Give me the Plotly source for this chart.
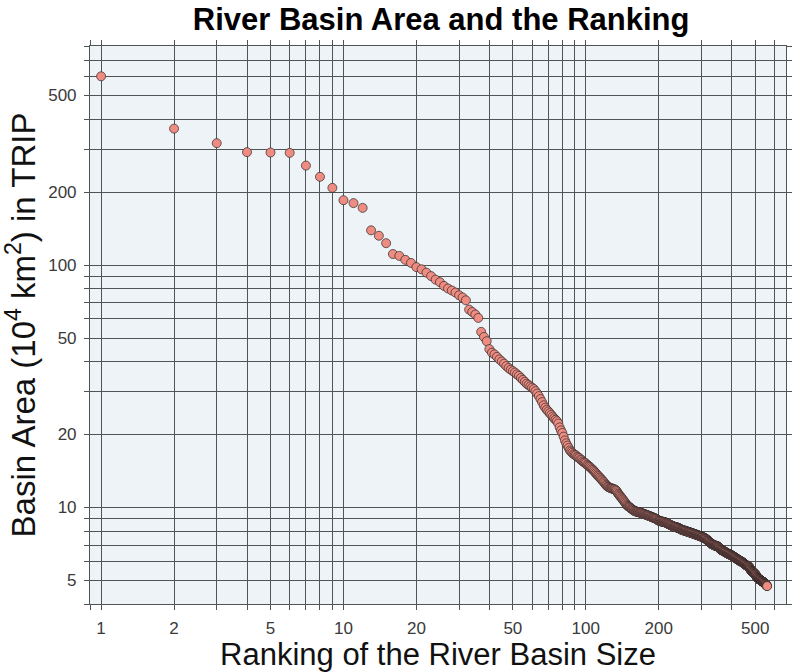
import plotly.graph_objects as go

# Basin area (10^4 km^2) of each TRIP river basin, listed by size rank
area_top = [600, 365, 318, 292, 291, 290, 257, 231, 208, 185,
            180, 172, 139, 132, 123, 111, 109, 105, 102, 98,
            96, 93, 90, 87, 85, 82, 80, 78.5, 77, 75,
            73.5, 71.5, 65.5, 64, 62.5, 60.5, 53, 50.5, 48.5, 45,
            43.5, 42.8, 41.8, 40.8, 40.0, 39.2, 38.3, 37.6, 37.0, 36.5]
area_mid = [36.0, 35.4, 34.9, 34.2, 33.6, 33.0, 32.4, 32.0, 31.6, 31.2,
            30.8, 30.2, 29.5, 28.8, 28.0, 27.2, 26.4, 25.8, 25.3, 24.9,
            24.5, 24.1, 23.7, 23.3, 23.0, 22.7, 22.2, 21.4, 20.8, 20.3,
            19.6, 18.9, 18.4, 18.0, 17.6, 17.2, 17.0, 16.8, 16.6, 16.5,
            16.4, 16.2, 16.1, 16.0, 15.8, 15.7, 15.5, 15.4, 15.3, 15.2,
            15.0, 14.9, 14.8, 14.7, 14.55, 14.4, 14.3, 14.15, 14.0, 13.85,
            13.7, 13.55, 13.45, 13.3, 13.2, 13.05, 12.95, 12.8, 12.7, 12.55,
            12.4, 12.3, 12.2, 12.15, 12.1, 12.05, 12.0, 12.0, 11.95, 11.9,
            11.9, 11.85, 11.8, 11.7, 11.55, 11.4, 11.3, 11.2, 11.1, 11.0,
            10.9, 10.8, 10.7, 10.6, 10.5, 10.4, 10.3, 10.2, 10.15, 10.1,
            10.05, 10.0, 9.95, 9.9, 9.85, 9.8, 9.75, 9.7, 9.68, 9.65]
area_tail = [9.63, 9.61, 9.60, 9.58, 9.57, 9.55, 9.53, 9.51, 9.50, 9.48,
             9.46, 9.44, 9.42, 9.40, 9.38, 9.36, 9.34, 9.32, 9.30, 9.28,
             9.26, 9.24, 9.22, 9.20, 9.18, 9.16, 9.14, 9.12, 9.10, 9.08,
             9.06, 9.04, 9.02, 9.00, 8.98, 8.96, 8.92, 8.88, 8.85, 8.83,
             8.81, 8.79, 8.78, 8.77, 8.76, 8.75, 8.74, 8.73, 8.72, 8.71,
             8.70, 8.69, 8.68, 8.66, 8.64, 8.62, 8.60, 8.58, 8.56, 8.54,
             8.52, 8.50, 8.48, 8.46, 8.44, 8.42, 8.40, 8.38, 8.36, 8.35,
             8.34, 8.33, 8.32, 8.31, 8.30, 8.29, 8.28, 8.27, 8.26, 8.25,
             8.24, 8.22, 8.20, 8.18, 8.16, 8.14, 8.12, 8.10, 8.09, 8.08,
             8.07, 8.06, 8.05, 8.04, 8.03, 8.02, 8.01, 8.00, 7.99, 7.98,
             7.97, 7.96, 7.95, 7.94, 7.93, 7.92, 7.91, 7.90, 7.89, 7.88,
             7.87, 7.86, 7.85, 7.84, 7.83, 7.82, 7.81, 7.80, 7.79, 7.78,
             7.77, 7.76, 7.75, 7.74, 7.73, 7.72, 7.71, 7.70, 7.69, 7.68,
             7.67, 7.66, 7.65, 7.64, 7.63, 7.62, 7.61, 7.60, 7.59, 7.58,
             7.57, 7.56, 7.55, 7.54, 7.53, 7.52, 7.51, 7.50, 7.49, 7.48,
             7.46, 7.44, 7.42, 7.40, 7.38, 7.36, 7.34, 7.32, 7.30, 7.28,
             7.26, 7.24, 7.22, 7.20, 7.18, 7.16, 7.14, 7.12, 7.10, 7.08,
             7.07, 7.06, 7.05, 7.04, 7.03, 7.02, 7.01, 7.00, 6.99, 6.98,
             6.97, 6.96, 6.95, 6.94, 6.94, 6.93, 6.93, 6.92, 6.92, 6.91,
             6.90, 6.88, 6.86, 6.84, 6.82, 6.80, 6.78, 6.76, 6.74, 6.72,
             6.70, 6.69, 6.68, 6.67, 6.66, 6.65, 6.64, 6.63, 6.62, 6.61,
             6.60, 6.59, 6.58, 6.57, 6.56, 6.55, 6.54, 6.53, 6.52, 6.51,
             6.50, 6.49, 6.48, 6.47, 6.46, 6.45, 6.44, 6.43, 6.42, 6.42,
             6.41, 6.41, 6.40, 6.40, 6.39, 6.38, 6.37, 6.36, 6.35, 6.34,
             6.33, 6.32, 6.31, 6.30, 6.29, 6.28, 6.27, 6.26, 6.25, 6.24,
             6.23, 6.22, 6.21, 6.20, 6.19, 6.18, 6.17, 6.16, 6.15, 6.14,
             6.13, 6.12, 6.11, 6.10, 6.09, 6.08, 6.07, 6.06, 6.05, 6.04,
             6.03, 6.03, 6.02, 6.02, 6.01, 6.01, 6.00, 5.99, 5.98, 5.97,
             5.96, 5.95, 5.94, 5.93, 5.92, 5.91, 5.90, 5.89, 5.88, 5.87,
             5.86, 5.85, 5.84, 5.83, 5.82, 5.81, 5.80, 5.79, 5.78, 5.77,
             5.76, 5.76, 5.75, 5.75, 5.74, 5.74, 5.73, 5.73, 5.72, 5.71,
             5.70, 5.68, 5.66, 5.64, 5.62, 5.60, 5.58, 5.56, 5.54, 5.52,
             5.50, 5.49, 5.48, 5.47, 5.46, 5.45, 5.44, 5.43, 5.42, 5.41,
             5.40, 5.39, 5.38, 5.37, 5.36, 5.35, 5.34, 5.33, 5.32, 5.31,
             5.30, 5.29, 5.27, 5.25, 5.23, 5.21, 5.19, 5.17, 5.15, 5.13,
             5.12, 5.11, 5.10, 5.09, 5.08, 5.08, 5.07, 5.07, 5.06, 5.06,
             5.05, 5.05, 5.04, 5.04, 5.03, 5.02, 5.01, 5.00, 4.99, 4.98,
             4.97, 4.97, 4.96, 4.96, 4.95, 4.95, 4.94, 4.94, 4.93, 4.93,
             4.92, 4.92, 4.91, 4.90, 4.89, 4.88, 4.87, 4.86, 4.85, 4.84,
             4.83, 4.82, 4.81, 4.80, 4.79, 4.78, 4.77, 4.76, 4.75, 4.74]

area = area_top + area_mid + area_tail
rank = list(range(1, len(area) + 1))

# grid / tick positions (decade lines with every integer multiple in between)
x_grid = [0.9, 1, 2, 3, 4, 5, 6, 7, 8, 9, 10, 20, 30, 40, 50, 60, 70, 80, 90,
          100, 200, 300, 400, 500, 600]
x_labels = {1: "1", 2: "2", 5: "5", 10: "10", 20: "20", 50: "50",
            100: "100", 200: "200", 500: "500"}
y_grid = [4, 5, 6, 7, 8, 9, 10, 20, 30, 40, 50, 60, 70, 80, 90,
          100, 200, 300, 400, 500, 600, 700, 800]
y_labels = {5: "5", 10: "10", 20: "20", 50: "50", 100: "100",
            200: "200", 500: "500"}

GRID = "#4f5455"
FONT = "Liberation Sans, Arial, Helvetica, sans-serif"

fig = go.Figure()
fig.add_trace(go.Scatter(
    x=rank, y=area, mode="markers",
    marker=dict(size=9, color="#ee8c82",
                line=dict(color="#2e2626", width=0.7)),
    showlegend=False,
))

axis_common = dict(
    type="log",
    showgrid=True, gridcolor=GRID, gridwidth=1.1,
    showline=True, linecolor=GRID, linewidth=1.1,
    mirror="allticks", ticks="outside", ticklen=5,
    tickcolor=GRID, tickwidth=1.1,
    zeroline=False,
    tickfont=dict(family=FONT, size=17, color="#3a3a3a"),
)

fig.update_xaxes(
    **axis_common,
    range=[-0.0458, 2.826],
    tickvals=x_grid,
    ticktext=[x_labels.get(v, "") for v in x_grid],
    ticklabelstandoff=4,
    title=dict(text="Ranking of the River Basin Size",
               font=dict(family=FONT, size=31, color="#111"), standoff=4),
)
fig.update_yaxes(
    **axis_common,
    range=[0.60206, 2.90309],
    tickvals=y_grid,
    ticktext=[y_labels.get(v, "") for v in y_grid],
    ticklabelstandoff=4,
    title=dict(text="Basin Area (10<sup>4</sup> km<sup>2</sup>) in TRIP",
               font=dict(family=FONT, size=33, color="#111"), standoff=4),
)

fig.update_layout(
    width=792, height=672,
    margin=dict(l=90, r=0, t=46, b=68),
    paper_bgcolor="white",
    plot_bgcolor="#edf3f6",
    title=dict(text="<b>River Basin Area and the Ranking</b>",
               x=0.557, xanchor="center", y=0.972, yanchor="middle",
               font=dict(family=FONT, size=31, color="#000")),
)

fig.write_html("out.html")
